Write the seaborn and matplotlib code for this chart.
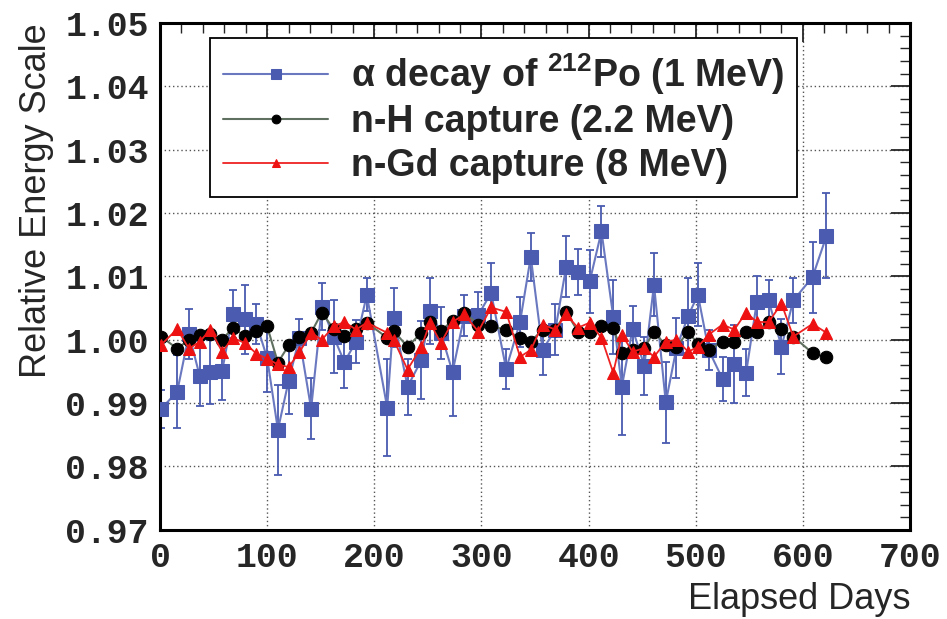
import matplotlib
matplotlib.use("Agg")
import matplotlib.pyplot as plt
import seaborn as sns
import pandas as pd
from matplotlib.ticker import MultipleLocator

days = [1, 16, 27, 37, 47, 58, 68, 79, 90, 100,
        110, 120, 130, 141, 151, 162, 172, 183, 193, 212,
        218, 231, 244, 252, 262, 273, 284, 297, 309, 323,
        336, 346, 357, 369, 379, 390, 401, 412, 423, 431,
        441, 452, 461, 472, 482, 493, 502, 512, 525, 536,
        547, 557, 568, 580, 591, 609, 622]

alpha_po = [0.9891, 0.9918, 1.0009, 0.9943, 0.9949, 0.9951, 1.0041, 1.0032, 1.0025, 0.9971,
            0.9858, 0.9935, 1.0003, 0.9891, 1.0052, 1.0005, 0.9965, 0.9997, 1.0071, 0.9893,
            1.0035, 0.9926, 0.9968, 1.0046, 1.0011, 0.9949, 1.0038, 1.0039, 1.0074, 0.9954,
            1.0028, 1.0131, 0.9984, 1.0016, 1.0115, 1.0107, 1.0092, 1.0171, 1.0036, 0.9926,
            1.0017, 0.9959, 1.0087, 0.9901, 0.9987, 1.0038, 1.0071, 0.9984, 0.9938, 0.9962,
            0.9948, 1.0060, 1.0062, 0.9989, 1.0062, 1.0099, 1.0164]

alpha_err = [0.0030, 0.0058, 0.0040, 0.0048, 0.0050, 0.0046, 0.0038, 0.0054, 0.0032, 0.0053,
             0.0071, 0.0052, 0.0030, 0.0048, 0.0037, 0.0057, 0.0041, 0.0034, 0.0026, 0.0076,
             0.0047, 0.0044, 0.0062, 0.0052, 0.0041, 0.0070, 0.0032, 0.0037, 0.0047, 0.0032,
             0.0040, 0.0038, 0.0040, 0.0040, 0.0048, 0.0037, 0.0050, 0.0040, 0.0058, 0.0077,
             0.0036, 0.0046, 0.0050, 0.0064, 0.0047, 0.0059, 0.0050, 0.0032, 0.0035, 0.0062,
             0.0037, 0.0040, 0.0032, 0.0043, 0.0035, 0.0056, 0.0067]

n_h = [1.0005, 0.9986, 1.0000, 1.0008, 1.0009, 1.0000, 1.0019, 1.0006, 1.0014, 1.0021,
       0.9964, 0.9991, 1.0005, 1.0011, 1.0043, 1.0017, 1.0006, 1.0017, 1.0027, 1.0003,
       1.0014, 0.9989, 1.0011, 1.0028, 1.0014, 1.0030, 1.0043, 1.0024, 1.0021, 1.0016,
       1.0002, 0.9997, 1.0016, 1.0016, 1.0044, 1.0013, 1.0013, 1.0022, 1.0019, 0.9979,
       0.9984, 0.9987, 1.0013, 0.9991, 0.9989, 1.0013, 0.9993, 0.9984, 0.9997, 0.9997,
       1.0013, 1.0013, 1.0028, 1.0017, 1.0005, 0.9979, 0.9972]

n_gd = [0.9992, 1.0017, 0.9986, 0.9997, 1.0016, 0.9981, 1.0003, 0.9995, 0.9978, 0.9970,
        0.9961, 0.9957, 0.9980, 1.0011, 1.0000, 1.0021, 1.0028, 1.0016, 1.0027, 1.0011,
        1.0000, 0.9953, 0.9989, 1.0027, 0.9995, 1.0028, 1.0040, 1.0013, 1.0051, 1.0044,
        0.9973, 0.9984, 1.0024, 1.0016, 1.0040, 1.0019, 1.0027, 1.0003, 0.9948, 1.0008,
        0.9981, 0.9987, 0.9973, 0.9997, 1.0000, 0.9981, 0.9989, 1.0008, 1.0024, 1.0016,
        1.0043, 1.0028, 1.0028, 1.0057, 1.0005, 1.0025, 1.0011]

labels = [r"α decay of $^{\mathbf{212}}$Po (1 MeV)",
          "n-H capture (2.2 MeV)",
          "n-Gd capture (8 MeV)"]
x_ticks = [0, 100, 200, 300, 400, 500, 600, 700]
y_ticks = [0.97, 0.98, 0.99, 1.00, 1.01, 1.02, 1.03, 1.04, 1.05]

sns.set_theme(style="white")
plt.rcParams["font.family"] = ["Liberation Sans", "DejaVu Sans"]
plt.rcParams["mathtext.fontset"] = "custom"
plt.rcParams["mathtext.bf"] = "Liberation Sans:bold"
plt.rcParams["mathtext.rm"] = "Liberation Sans:bold"

df = pd.DataFrame({"days": days, "alpha": alpha_po, "err": alpha_err,
                   "nh": n_h, "ngd": n_gd})

fig = plt.figure(figsize=(9.47, 6.19), dpi=100)
ax = fig.add_axes([0.169, 0.144, 0.792, 0.819])

blue = "#4a5bb0"
ax.errorbar(df["days"], df["alpha"], yerr=df["err"], fmt="none",
            ecolor=blue, elinewidth=1.3, capsize=3, capthick=1.3, zorder=2)
sns.lineplot(data=df, x="days", y="alpha", ax=ax, color="#6a78c0", lw=1.5,
             marker="s", markersize=10, markerfacecolor=blue,
             markeredgecolor=blue, label=labels[0], zorder=3)
sns.lineplot(data=df, x="days", y="nh", ax=ax, color="#607060", lw=1.5,
             marker="o", markersize=9, markerfacecolor="black",
             markeredgecolor="black", label=labels[1], zorder=4)
sns.lineplot(data=df, x="days", y="ngd", ax=ax, color="#ee2222", lw=1.3,
             marker="^", markersize=9, markerfacecolor="#ee1111",
             markeredgecolor="#ee1111", label=labels[2], zorder=5)

ax.set_xlim(0, 700)
ax.set_ylim(0.97, 1.05)
ax.set_xticks(x_ticks)
ax.set_yticks(y_ticks)
ax.set_xticklabels([str(v) for v in x_ticks])
ax.set_yticklabels([f"{v:.2f}" for v in y_ticks])
ax.xaxis.set_minor_locator(MultipleLocator(20))
ax.yaxis.set_minor_locator(MultipleLocator(0.002))
ax.tick_params(axis="both", which="major", direction="in", length=14, width=1.3,
               top=True, right=True, pad=8)
ax.tick_params(axis="both", which="minor", direction="in", length=7, width=1.0,
               top=True, right=True)
for lab in ax.get_xticklabels() + ax.get_yticklabels():
    lab.set_fontfamily("Liberation Mono")
    lab.set_fontweight("bold")
    lab.set_fontsize(25)
ax.grid(True, which="major", linestyle=(0, (1, 2)), color="#555555", lw=1.0)
for sp in ax.spines.values():
    sp.set_linewidth(2.2)
    sp.set_color("black")

ax.set_xlabel("Elapsed Days", fontsize=26, loc="right", labelpad=6)
ax.set_ylabel("Relative Energy Scale", fontsize=26, loc="top", labelpad=8)

leg = ax.legend(loc="upper left", bbox_to_anchor=(0.067, 0.970),
                borderaxespad=0.0,
                prop={"family": "Liberation Sans", "weight": "bold", "size": 27},
                frameon=True, fancybox=False, edgecolor="black",
                handlelength=2.8, handletextpad=0.6, labelspacing=0.2,
                borderpad=0.35, markerscale=0.7, framealpha=1.0)
leg.get_frame().set_linewidth(1.3)
leg.set_zorder(10)

fig.savefig("out.png", dpi=100)
